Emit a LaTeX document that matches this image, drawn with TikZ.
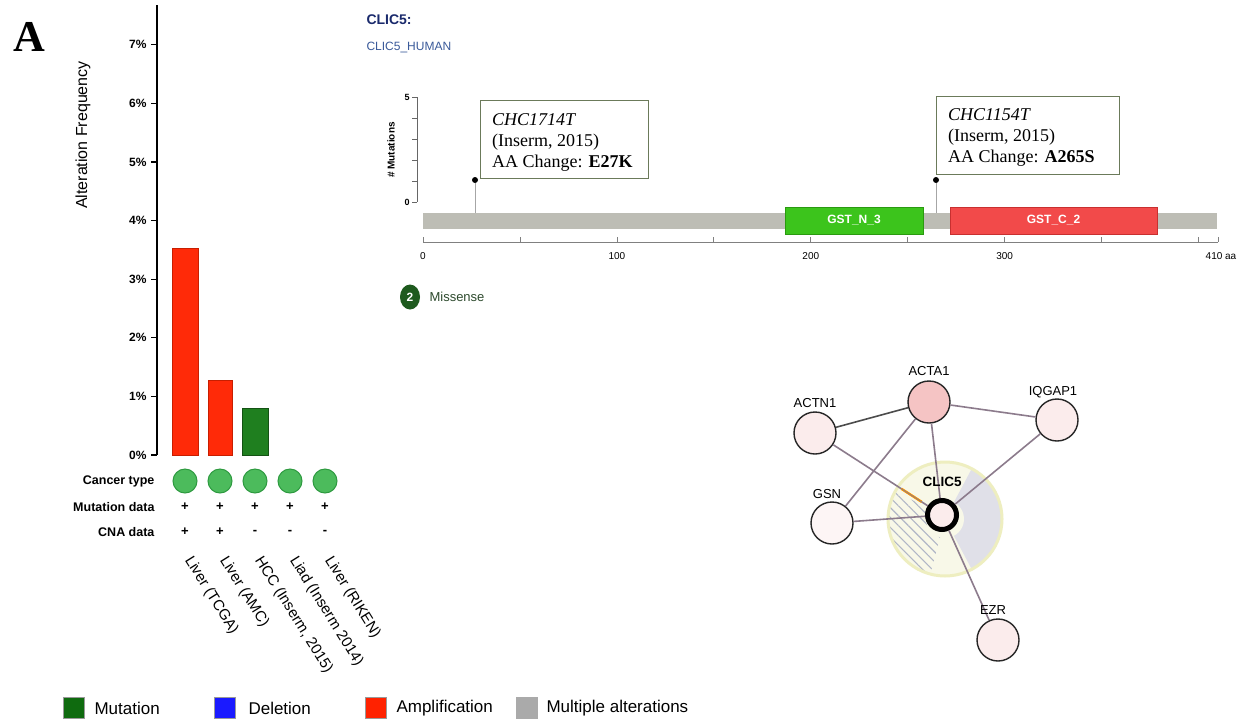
\documentclass[tikz,border=0pt]{standalone}
\usepackage{fontspec}
\setmainfont{Liberation Sans}
\newfontfamily\serif{Liberation Serif}
\usetikzlibrary{patterns.meta,calc,shapes.geometric}
\definecolor{barred}{HTML}{FF2A08}
\definecolor{barrededge}{HTML}{C81E00}
\definecolor{bargreen}{HTML}{1F7F1F}
\definecolor{bargreenedge}{HTML}{145214}
\definecolor{dotgreen}{HTML}{4CBB5C}
\definecolor{dotgreenedge}{HTML}{2E9A40}
\definecolor{legmut}{HTML}{0F6B0F}
\definecolor{legdel}{HTML}{1A1AFF}
\definecolor{legamp}{HTML}{FF2200}
\definecolor{legmul}{HTML}{AAAAAA}
\definecolor{titleblue}{HTML}{1A2A6C}
\definecolor{subblue}{HTML}{3A5A9A}
\definecolor{protgray}{HTML}{BDBDB5}
\definecolor{gstn}{HTML}{3CC41C}
\definecolor{gstnedge}{HTML}{2A9A10}
\definecolor{gstc}{HTML}{F24A4A}
\definecolor{gstcedge}{HTML}{C83030}
\definecolor{tipedge}{HTML}{6B7A5A}
\definecolor{misgreen}{HTML}{1E5A1E}
\definecolor{mistext}{HTML}{2D4A2D}
\definecolor{edgecol}{HTML}{8C7B8C}
\definecolor{nodepink}{HTML}{FBECEC}
\definecolor{actapink}{HTML}{F5C4C4}
\definecolor{halofill}{HTML}{F8F8E8}
\definecolor{haloedge}{HTML}{EEEEC0}
\definecolor{halogray}{HTML}{E0E0E8}
\definecolor{hatchcol}{HTML}{B0B6C6}
\begin{document}
\begin{tikzpicture}[x=1pt,y=-1pt,
  ticklab/.style={font=\fontsize{12}{14}\selectfont\bfseries, anchor=east},
  rowlab/.style={font=\fontsize{12.5}{14}\selectfont\bfseries, anchor=east},
  pm/.style={font=\fontsize{13}{14}\selectfont\bfseries},
  study/.style={font=\fontsize{15}{17}\selectfont, anchor=west, rotate=-58},
  legsq/.style={minimum width=21pt, minimum height=21pt, inner sep=0pt, draw=black!40},
  legtxt/.style={font=\fontsize{17}{19}\selectfont, anchor=west},
  axlab/.style={font=\fontsize{10}{12}\selectfont},
  tip/.style={draw=tipedge, line width=1.2pt, fill=white},
  tiptxt/.style={font=\serif\fontsize{18}{20}\selectfont, anchor=west, inner sep=0pt},
  dom/.style={font=\fontsize{12}{14}\selectfont\bfseries, text=white},
  gene/.style={circle, draw=black!85, line width=1.4pt, minimum size=42pt, inner sep=0pt},
  genelab/.style={font=\fontsize{13}{15}\selectfont},
  link/.style={draw=edgecol, line width=1.6pt}
]
\useasboundingbox (0,0) rectangle (1247,726);
\fill[white] (0,0) rectangle (1247,726);

% panel letter
\node[anchor=base west, font=\serif\fontsize{44}{46}\selectfont\bfseries] (A) at (10,51) {A};

% ---------------- bar chart ----------------
\draw[line width=1.3pt] (157,5) -- (157,455);
\foreach \i in {0,...,7} {
  \draw[line width=1.1pt] (151,{455-58.6*\i}) -- (157,{455-58.6*\i});
  \node[ticklab] (yt\i) at (150,{455-58.6*\i}) {\i\%};
}
\node[font=\fontsize{16}{18}\selectfont, rotate=90] (ylab) at (83,135) {Alteration Frequency};

\filldraw[fill=barred, draw=barrededge, line width=1pt] (172,455) rectangle (198,248);
\filldraw[fill=barred, draw=barrededge, line width=1pt] (208,455) rectangle (232,380);
\filldraw[fill=bargreen, draw=bargreenedge, line width=1pt] (242,455) rectangle (268,408);

\node[rowlab] (rct) at (158,481) {Cancer type};
\node[rowlab] (rmd) at (158,507) {Mutation data};
\node[rowlab] (rcna) at (158,532) {CNA data};

\foreach \x/\c/\n [count=\k] in {185/+/{Liver (TCGA)}, 220/+/{Liver (AMC)}, 255/-/{HCC (Inserm, 2015)}, 290/-/{Liad (Inserm 2014)}, 325/-/{Liver (RIKEN)}} {
  \node[circle, fill=dotgreen, draw=dotgreenedge, line width=1pt, minimum size=24pt, inner sep=0pt] (ct\k) at (\x,481) {};
  \node[pm] (md\k) at (\x,507) {+};
  \node[pm] (cn\k) at (\x,532) {\c};
  \node[study] (st\k) at (\x+1,555) {\n};
}

% legend
\node[legsq, fill=legmut] (lg1) at (74,708) {};
\node[legtxt] (lt1) at (91,708) {Mutation};
\node[legsq, fill=legdel] (lg2) at (225,708) {};
\node[legtxt] (lt2) at (245,708) {Deletion};
\node[legsq, fill=legamp] (lg3) at (376,708) {};
\node[legtxt] (lt3) at (393,708) {Amplification};
\node[legsq, fill=legmul, draw=legmul] (lg4) at (527,708) {};
\node[legtxt] (lt4) at (543,708) {Multiple alterations};

% ---------------- lollipop ----------------
\node[anchor=west, font=\fontsize{14}{16}\selectfont\bfseries, text=titleblue] (gtitle) at (363,20) {CLIC5:};
\node[anchor=west, font=\fontsize{12}{14}\selectfont, text=subblue] (gsub) at (363,48) {CLIC5\_HUMAN};

\draw[black!60, line width=0.8pt] (417,97) -- (417,202);
\foreach \j in {0,...,5} { \draw[black!60, line width=0.8pt] (412,{97+21*\j}) -- (417,{97+21*\j}); }
\node[axlab, font=\fontsize{9}{10}\selectfont\bfseries] (m5) at (407,97) {5};
\node[axlab, font=\fontsize{9}{10}\selectfont\bfseries] (m0) at (407,202) {0};
\node[font=\fontsize{10}{12}\selectfont\bfseries, rotate=90] (mlab) at (391,150) {\# Mutations};

\fill[protgray] (423,213) rectangle (1217,229);
\node[dom, fill=gstn, draw=gstnedge, line width=1pt, minimum width=138pt, minimum height=27pt, inner sep=0pt] (gstn) at (854,220.5) {GST\_N\_3};
\node[dom, fill=gstc, draw=gstcedge, line width=1pt, minimum width=207pt, minimum height=27pt, inner sep=0pt] (gstc) at (1053.5,220.5) {GST\_C\_2};

\draw[black!50, line width=0.8pt] (423,242) -- (1218,242);
\foreach \a in {0,50,...,400,410} { \draw[black!50, line width=0.8pt] ({423+1.939*\a},242) -- ({423+1.939*\a},237); }
\node[axlab] (a0) at (423,256) {0};
\node[axlab] (a100) at ({423+193.9},256) {100};
\node[axlab] (a200) at ({423+387.8},256) {200};
\node[axlab] (a300) at ({423+581.7},256) {300};
\node[axlab] (a410) at (1221,256) {410 aa};

% lollipops
\coordinate (s1) at (475,213);
\coordinate (s2) at (936,213);
\node[circle, fill=black, minimum size=6pt, inner sep=0pt] (h1) at (475,180) {};
\node[circle, fill=black, minimum size=6pt, inner sep=0pt] (h2) at (936,180) {};
\draw[black!35, line width=0.8pt] (h1) -- (s1);
\draw[black!35, line width=0.8pt] (h2) -- (s2);

% tooltips
\node[tip, anchor=north west, minimum width=168pt, minimum height=78pt] (tip1) at (480,100) {};
\node[tiptxt] (t1a) at (492,120) {\itshape CHC1714T};
\node[tiptxt] (t1b) at (492,142) {(Inserm, 2015)};
\node[tiptxt] (t1c) at (492,163) {AA Change: \textbf{E27K}};
\node[tip, anchor=north west, minimum width=183pt, minimum height=78pt] (tip2) at (936,96) {};
\node[tiptxt] (t2a) at (948,115) {\itshape CHC1154T};
\node[tiptxt] (t2b) at (948,137) {(Inserm, 2015)};
\node[tiptxt] (t2c) at (948,158) {AA Change: \textbf{A265S}};

% missense
\node[ellipse, fill=misgreen, minimum width=20pt, minimum height=25pt, inner sep=0pt, text=white, font=\fontsize{12}{14}\selectfont\bfseries] (mis) at (410,297) {2};
\node[anchor=west, text=mistext, font=\fontsize{13}{15}\selectfont] (mist) at (426,297) {Missense};

% ---------------- network ----------------
\coordinate (hc) at (945,519);
\fill[halofill] (hc) circle (58);
\fill[halogray] (hc) -- ++(-62:56) arc (-62:62:56) -- cycle;
\fill[pattern={Lines[angle=-45,distance=7pt,line width=1.1pt]}, pattern color=hatchcol] (hc) -- ++(105:56) arc (105:210:56) -- cycle;
\fill[halofill] (hc) circle (19);
\draw[haloedge, line width=3pt] (hc) circle (57);

\node[gene, fill=actapink] (acta1) at (929,402) {};
\node[gene, fill=nodepink] (actn1) at (815,433) {};
\node[gene, fill=nodepink] (iqgap1) at (1057,420) {};
\node[gene, fill=white!50!nodepink] (gsn) at (832,523) {};
\node[gene, fill=nodepink] (ezr) at (998,640) {};
\node[circle, draw=black, line width=5pt, minimum size=29pt, inner sep=0pt, fill=nodepink] (clic5) at (942,515) {};

\draw[link, draw=black!70] (actn1) -- (acta1);
\draw[link] (acta1) -- (iqgap1);
\draw[link] (acta1) -- (gsn);
\draw[link] (acta1) -- (clic5);
\draw[link] (actn1) -- (clic5);
\draw[link] (iqgap1) -- (clic5);
\draw[link] (gsn) -- (clic5);
\draw[link] (clic5) -- (ezr);
\draw[draw=orange!80!yellow, line width=2.4pt] ($(actn1)!0.68!(clic5)$) -- ($(actn1)!0.84!(clic5)$);
\draw[draw=edgecol, line width=0.8pt] ($(actn1)!0.68!(clic5)$) -- ($(actn1)!0.84!(clic5)$);

\node[genelab] (lacta1) at (929,371) {ACTA1};
\node[genelab] (lactn1) at (815,403) {ACTN1};
\node[genelab] (liqgap1) at (1053,392) {IQGAP1};
\node[genelab] (lgsn) at (827,494) {GSN};
\node[genelab, font=\fontsize{13.5}{15}\selectfont\bfseries] (lclic5) at (942,482) {CLIC5};
\node[genelab] (lezr) at (993,610) {EZR};
\end{tikzpicture}
\end{document}
